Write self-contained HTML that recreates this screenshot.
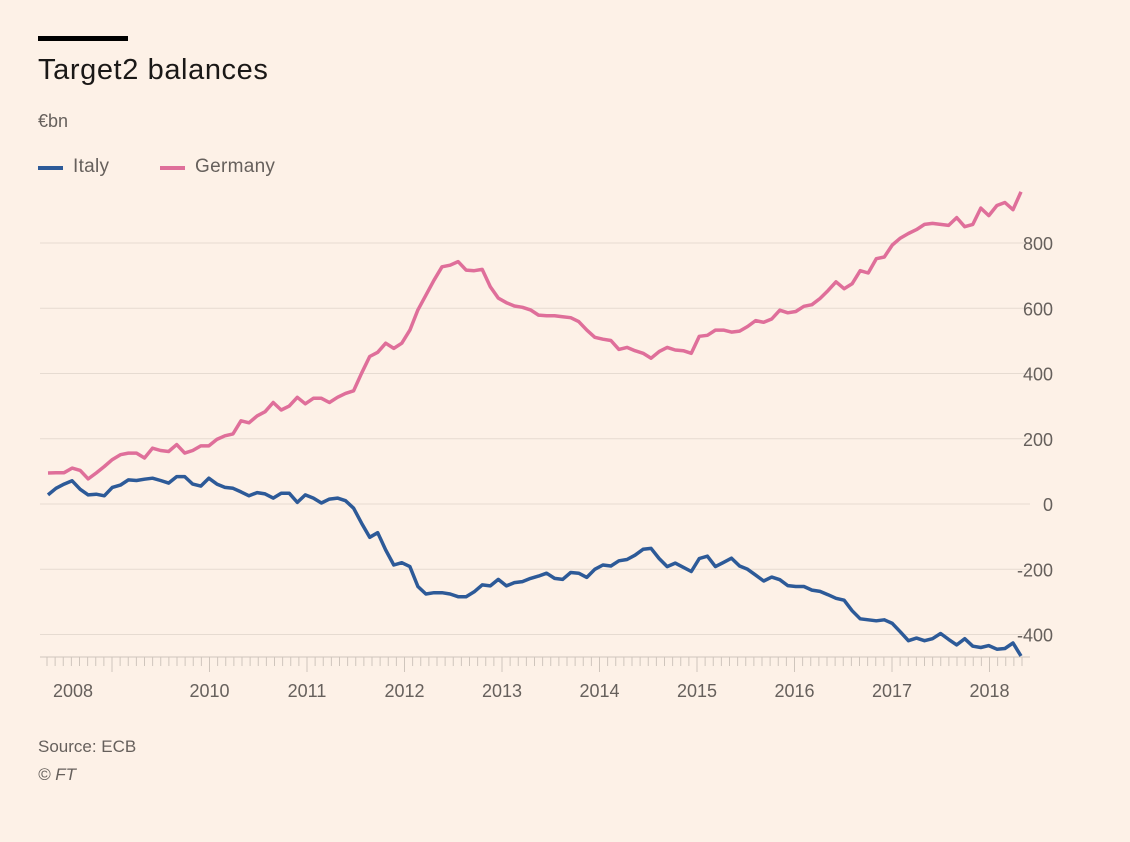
<!DOCTYPE html>
<html><head><meta charset="utf-8">
<style>
html,body{margin:0;padding:0;background:#fdf1e7;}
body{width:1130px;height:842px;overflow:hidden;position:relative;font-family:"Liberation Sans",sans-serif;}
.t{position:absolute;white-space:nowrap;}
</style></head>
<body>
<div style="position:absolute;left:38px;top:36px;width:90px;height:5px;background:#000;"></div>
<div class="t" style="left:38px;top:54px;font-size:29px;letter-spacing:0.6px;color:#1a1817;">Target2 balances</div>
<div class="t" style="left:38px;top:111px;font-size:18px;color:#66605c;">€bn</div>
<div style="position:absolute;left:38px;top:157px;">
 <div style="position:absolute;left:0;top:9px;width:25px;height:4px;background:#2d5a98;"></div>
 <div class="t" style="left:35px;top:-1px;font-size:19px;letter-spacing:0.3px;color:#66605c;">Italy</div>
</div>
<div style="position:absolute;left:160px;top:157px;">
 <div style="position:absolute;left:0;top:9px;width:25px;height:4px;background:#df6f9a;"></div>
 <div class="t" style="left:35px;top:-1px;font-size:19px;letter-spacing:0.3px;color:#66605c;">Germany</div>
</div>
<svg id="chart" width="1130" height="842" style="position:absolute;left:0;top:0;"></svg>
<div class="t" style="left:38px;top:737px;font-size:17px;color:#66605c;">Source: ECB</div>
<div class="t" style="left:38px;top:765px;font-size:17px;color:#66605c;font-style:italic;">© FT</div>
<script>
const germany=[95,96,96,110,103,77,95,115,136,151,156,156,141,171,164,161,182,156,164,178,178,198,209,215,255,249,270,283,311,288,300,327,307,324,324,311,327,339,347,401,452,465,493,477,493,533,595,640,686,727,732,743,717,715,719,666,631,617,607,603,595,579,577,577,574,571,559,533,511,505,501,474,480,470,462,447,467,480,472,470,462,514,517,533,533,527,530,544,562,557,567,594,586,590,606,611,630,654,681,660,675,715,708,752,757,794,815,829,841,857,860,857,854,878,850,857,907,884,915,924,902,957];
const italy=[28,48,61,71,45,28,30,25,51,58,74,72,76,79,72,64,84,84,61,55,79,61,51,48,37,25,35,31,18,33,33,5,28,18,3,15,18,10,-13,-59,-102,-88,-141,-187,-180,-192,-253,-276,-272,-272,-276,-284,-284,-269,-248,-251,-231,-251,-241,-238,-228,-221,-212,-228,-231,-210,-212,-225,-200,-187,-190,-174,-170,-157,-139,-136,-167,-192,-181,-194,-207,-167,-160,-192,-179,-166,-190,-200,-218,-236,-224,-232,-250,-253,-253,-264,-268,-278,-289,-295,-327,-352,-355,-358,-355,-366,-392,-419,-411,-419,-413,-397,-415,-432,-413,-436,-440,-434,-445,-443,-426,-466];
const yTicks=[800,600,400,200,0,-200,-400];
const yearLabels=["2008","2010","2011","2012","2013","2014","2015","2016","2017","2018"];
const yearValues=[2008.6,2010,2011,2012,2013,2014,2015,2016,2017,2018];

const NS="http://www.w3.org/2000/svg";
const svg=document.getElementById('chart');
const X0=48,X1=1021;
const y=v=>504-v*0.32625;
const xi=i=>X0+(X1-X0)*i/(germany.length-1);
const xYear=yr=>112+97.5*(yr-2009);
function mk(t,a){const e=document.createElementNS(NS,t);for(const k in a)e.setAttribute(k,a[k]);svg.appendChild(e);return e;}
yTicks.forEach(v=>{
  const g=mk('line',{x1:40,x2:1030,y1:y(v),y2:y(v),stroke:'#e6dbd1','stroke-width':1});
  
  
  const t=mk('text',{x:1053,y:y(v)+7,'text-anchor':'end','font-size':18,fill:'#66605c','font-family':'Liberation Sans, sans-serif'});
  t.textContent=v;
  
  
});
const ax=mk('line',{x1:40,x2:1030,y1:657,y2:657,stroke:'#cfc5bc','stroke-width':1});


for(let k=-8;k<120;k++){
  const xx=112+8.125*k;
  if(xx<44||xx>1023)continue;
  const major=(k%12===0);
  const tk=mk('line',{x1:xx,x2:xx,y1:657,y2:major?672:666,stroke:'#cfc5bc','stroke-width':1});
  
  
}
yearLabels.forEach((lab,j)=>{
  const t=mk('text',{x:xYear(yearValues[j]),y:697,'text-anchor':'middle','font-size':18,fill:'#66605c','font-family':'Liberation Sans, sans-serif'});
  t.textContent=lab;
  
  
});
function line(data,color,name){
  const d=data.map((v,i)=>(i?'L':'M')+xi(i).toFixed(1)+' '+y(v).toFixed(1)).join(' ');
  const p=mk('path',{d:d,fill:'none',stroke:color,'stroke-width':3.5,'stroke-linejoin':'round'});
  
  
}
line(germany,'#df6f9a','germany-line');
line(italy,'#2d5a98','italy-line');
</script>
</body></html>
